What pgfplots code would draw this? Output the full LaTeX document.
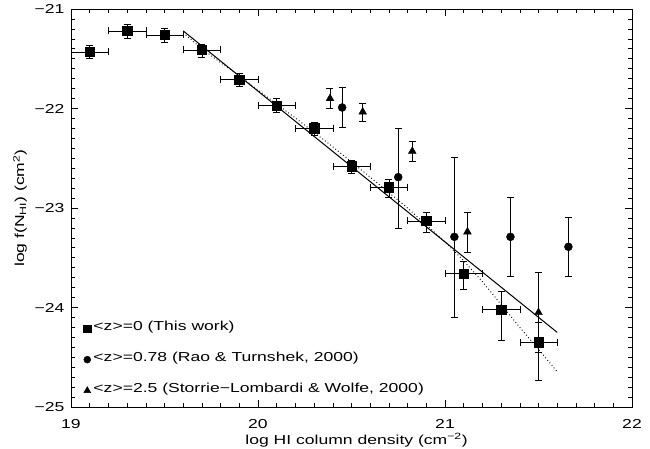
\documentclass[border=0pt]{standalone}
\usepackage{fontspec}
\setmainfont{Liberation Sans}[FakeStretch=1.35]
\usepackage{pgfplots}
\usepackage{pgfplotstable}
\pgfplotsset{compat=1.18}

\pgfplotstableread{
x y ex ep em
19.10 -21.43 0.1 0.07 0.07
19.30 -21.22 0.1 0.07 0.07
19.50 -21.26 0.1 0.07 0.07
19.70 -21.41 0.1 0.06 0.07
19.90 -21.71 0.1 0.06 0.07
20.10 -21.97 0.1 0.07 0.07
20.30 -22.20 0.1 0.06 0.07
20.50 -22.58 0.1 0.06 0.07
20.70 -22.79 0.1 0.08 0.10
20.90 -23.13 0.1 0.09 0.11
21.10 -23.66 0.1 0.12 0.16
21.30 -24.02 0.1 0.18 0.31
21.50 -24.35 0.1 0.20 0.38
}\squares

\pgfplotstableread{
x y ep em
20.45 -21.99 0.20 0.20
20.75 -22.69 0.49 0.51
21.05 -23.29 0.80 0.81
21.35 -23.29 0.40 0.40
21.66 -23.39 0.30 0.30
}\circles

\pgfplotstableread{
x y ep em
20.385 -21.90 0.10 0.10
20.56 -22.035 0.09 0.09
20.825 -22.43 0.10 0.10
21.12 -23.24 0.20 0.20
21.50 -24.05 0.40 0.40
}\triangles

\pgfplotstableread{
x y
19.6 -21.22
21.6 -24.25
}\solidfit

\pgfplotstableread{
x y
19.6 -21.24
19.7 -21.40
19.8 -21.54
19.9 -21.67
20.0 -21.815
20.2 -22.095
20.4 -22.385
20.6 -22.69
20.8 -23.00
21.0 -23.34
21.1 -23.53
21.2 -23.74
21.3 -23.97
21.4 -24.20
21.5 -24.42
21.6 -24.645
}\dottedfit

\begin{document}
\begin{tikzpicture}[font=\fontsize{13}{15}\selectfont]
\path[use as bounding box] (-71pt,-42pt) rectangle (579pt,407pt);
\begin{axis}[
  at={(0,0)}, anchor=south west,
  scale only axis, width=561pt, height=398pt,
  xmin=19, xmax=22, ymin=-25, ymax=-21,
  xtick={19,20,21,22}, xticklabels={19,20,21,22},
  ytick={-25,-24,-23,-22,-21}, yticklabels={−25,−24,−23,−22,−21},
  minor x tick num=9, minor y tick num=9,
  major tick length=7pt, minor tick length=4pt,
  tick style={black, line width=0.6pt},
  axis line style={black, line width=0.8pt},
  tick label style={font=\fontsize{13}{15}\selectfont},
  xticklabel style={yshift=-9pt},
  yticklabel style={xshift=-3pt},
  xlabel={log HI column density (cm\textsuperscript{−2})},
  ylabel={log f(N\textsubscript{HI}) (cm\textsuperscript{2})},
  every axis x label/.style={at={(axis description cs:0.509,-0.093)}, anchor=base, font=\fontsize{13}{15}\selectfont},
  every axis y label/.style={at={(axis description cs:-0.0909,0.5)}, anchor=center, rotate=90, font=\fontsize{13}{15}\selectfont},
  legend style={at={(axis cs:19.05,-24.11)}, anchor=north west, draw=none, fill=none,
    font=\fontsize{13}{15}\selectfont, row sep=17pt,
    nodes={inner sep=1pt, text height=9pt, text depth=3pt}},
  legend cell align=left,
  legend image code/.code={\draw[#1] plot coordinates {(0pt,-1pt)}; \path (5pt,0pt);},
]
\addlegendimage{black, mark=square*, mark size=3.75pt}
\addlegendentry{<z>=0 (This work)}
\addlegendimage{black, mark=*, mark size=3.5pt}
\addlegendentry{<z>=0.78 (Rao \& Turnshek, 2000)}
\addlegendimage{black, mark=triangle*, mark size=4pt}
\addlegendentry{<z>=2.5 (Storrie−Lombardi \& Wolfe, 2000)}

\addplot[black, line width=1pt, forget plot] table[x=x,y=y] {\solidfit};
\addplot[black, line width=0.9pt, dash pattern=on 0.9pt off 2.4pt, forget plot] table[x=x,y=y] {\dottedfit};

\addplot[black, only marks, mark=square*, mark size=4.75pt, forget plot,
  error bars/.cd, x dir=both, x explicit, y dir=both, y explicit,
  error bar style={line width=0.5pt, black},
  error mark options={line width=0.5pt, mark size=3.5pt, black, rotate=90}]
  table[x=x, y=y, x error=ex, y error plus=ep, y error minus=em] {\squares};

\addplot[black, only marks, mark=*, mark size=4pt, forget plot,
  error bars/.cd, y dir=both, y explicit,
  error bar style={line width=0.5pt, black},
  error mark options={line width=0.5pt, mark size=3.5pt, black, rotate=90}]
  table[x=x, y=y, y error plus=ep, y error minus=em] {\circles};

\addplot[black, only marks, mark=triangle*, mark size=4.5pt, forget plot,
  error bars/.cd, y dir=both, y explicit,
  error bar style={line width=0.5pt, black},
  error mark options={line width=0.5pt, mark size=3.5pt, black, rotate=90}]
  table[x=x, y=y, y error plus=ep, y error minus=em] {\triangles};
\end{axis}
\end{tikzpicture}
\end{document}
